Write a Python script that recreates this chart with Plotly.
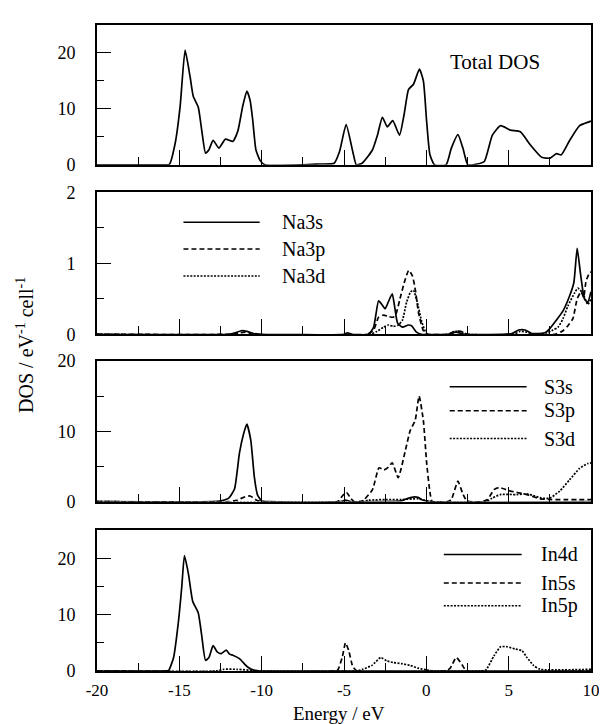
import plotly.graph_objects as go
from plotly.subplots import make_subplots

# ---------------- data ----------------
tot_E = [-20, -16.0, -15.6, -15.25, -14.95, -14.65, -14.35, -14.15, -13.85, -13.6, -13.41, -13.2, -12.95, -12.6,
         -12.2, -11.75, -11.45, -11.15, -10.9, -10.7, -10.55, -10.35, -10.1, -9.8, -7.5, -6.5, -5.6, -5.27, -4.87,
         -4.47, -4.25, -3.9, -3.55, -3.27, -2.97, -2.67, -2.37, -2.04, -1.63, -1.35, -1.08, -0.78, -0.42, -0.18,
         0.02, 0.22, 0.5, 1.2, 1.52, 1.92, 2.22, 2.52, 3.0, 3.52, 4.01, 4.51, 5.11, 5.71, 6.31, 7.01, 7.51, 7.9,
         8.2, 8.71, 9.31, 9.97, 10]
tot_V = [0, 0, 0.1, 3.9, 10.5, 20.5, 15.8, 12.2, 10.3, 5.3, 2.1, 2.7, 4.4, 3.0,
         4.6, 4.2, 6.0, 10.5, 13.2, 11.5, 8.2, 2.7, 0.8, 0, 0, 0.15, 0.3, 2.4, 7.2,
         2.4, 0, 0.3, 1.5, 2.7, 5.3, 8.5, 6.8, 7.9, 5.3, 9.0, 13.5, 14.4, 17.1, 15.0,
         7.7, 1.8, 0, 0, 3.0, 5.4, 3.0, 0, 0.1, 0.6, 5.3, 7.0, 6.2, 5.9, 3.6, 1.35, 1.2, 2.0,
         1.8, 4.4, 7.0, 7.8, 7.9]

na3s_E = [-20, -12, -11.6, -11.2, -10.9, -10.5, -10, -5.0, -4.8, -4.5, -3.5, -3.2, -2.9, -2.7, -2.5, -2.3, -2.07,
          -1.9, -1.75, -1.45, -1.1, -0.9, -0.6, -0.3, 1.3, 1.8, 2.3, 5.2, 5.6, 6.0, 6.4, 7.2, 7.5, 7.9, 8.3, 8.7,
          8.96, 9.16, 9.37, 9.6, 9.8, 10]
na3s_V = [0, 0, 0.02, 0.05, 0.04, 0.01, 0, 0, 0.02, 0, 0, 0.1, 0.47, 0.42, 0.36, 0.46, 0.57,
          0.35, 0.16, 0.1, 0.13, 0.12, 0.03, 0, 0, 0.03, 0, 0.01, 0.06, 0.06, 0.01, 0.02, 0.08, 0.2, 0.33, 0.54,
          0.73, 1.21, 0.84, 0.5, 0.45, 0.6]

na3p_E = [-20, -12, -11.3, -11.0, -10.6, -3.6, -3.2, -2.9, -2.6, -2.3, -2.0, -1.85, -1.6, -1.35, -1.07, -0.84,
          -0.65, -0.48, -0.18, 0.1, 1.3, 1.7, 2.1, 2.4, 7.8, 8.3, 8.6, 8.9, 9.16, 9.4, 9.55, 9.7, 9.9, 10]
na3p_V = [0, 0, 0.02, 0.03, 0, 0, 0.06, 0.24, 0.27, 0.25, 0.24, 0.28, 0.5, 0.72, 0.9, 0.82,
          0.6, 0.31, 0.05, 0, 0, 0.04, 0.04, 0, 0, 0.05, 0.12, 0.22, 0.5, 0.6, 0.52, 0.75, 0.86, 0.88]

na3d_E = [-20, -3.4, -3.0, -2.6, -2.3, -2.0, -1.7, -1.45, -1.2, -0.95, -0.78, -0.55, -0.27, 0.05, 1.4, 1.8, 2.2,
          2.5, 5.3, 5.7, 6.1, 6.5, 7.3, 7.7, 8.0, 8.3, 8.6, 9.0, 9.2, 9.5, 9.8, 10]
na3d_V = [0, 0, 0.04, 0.1, 0.13, 0.11, 0.13, 0.2, 0.45, 0.6, 0.62, 0.45, 0.17, 0, 0, 0.04, 0.03,
          0, 0, 0.04, 0.03, 0, 0.02, 0.06, 0.1, 0.22, 0.4, 0.58, 0.65, 0.58, 0.42, 0.5]

s3s_E = [-20, -13, -12.5, -12.0, -11.65, -11.35, -11.1, -10.9, -10.66, -10.45, -10.26, -10.0, -9.5, -5.2, -4.9,
         -4.6, -3.0, -1.5, -1.2, -0.8, -0.5, -0.2, 0.2, 10]
s3s_V = [0, 0, 0.1, 0.5, 1.8, 6.9, 9.6, 11.0, 8.7, 3.6, 1.0, 0.1, 0, 0, 0.2,
         0, 0, 0.1, 0.4, 0.65, 0.6, 0.2, 0, 0]

s3p_E = [-20, -12, -11.5, -11.0, -10.7, -10.3, -10, -5.4, -5.1, -4.85, -4.6, -4.4, -4.0, -3.77, -3.27, -2.87,
         -2.57, -2.3, -2.07, -1.71, -1.27, -0.98, -0.68, -0.44, -0.18, 0.02, 0.22, 0.36, 1.3, 1.52, 1.92, 2.2,
         2.42, 2.6, 3.4, 3.72, 4.11, 4.41, 5.11, 6.11, 6.91, 7.51, 10]
s3p_V = [0, 0, 0.2, 0.7, 0.8, 0.2, 0, 0, 0.8, 1.3, 0.5, 0, 0, 0.3, 1.7, 4.8,
         4.5, 4.9, 5.5, 3.4, 7.3, 10.1, 11.5, 15.0, 11.5, 5.5, 1.3, 0, 0, 0.3, 2.9, 1.2,
         0.2, 0, 0, 0.3, 1.7, 2.0, 1.5, 1.0, 0.4, 0.3, 0.3]

s3d_E = [-20, -4, -3.5, -2.5, -1.5, -0.5, 0.3, 3.6, 4.0, 4.5, 5.5, 6.1, 6.6, 7.0, 7.5, 8.1, 8.7, 9.3, 9.8, 10]
s3d_V = [0, 0, 0.2, 0.3, 0.3, 0.4, 0, 0, 0.5, 1.0, 1.0, 1.1, 0.8, 0.5, 0.5, 1.5, 3.1, 4.7, 5.4, 5.5]

in4d_E = [-20, -15.9, -15.65, -15.35, -15.05, -14.85, -14.69, -14.45, -14.19, -13.85, -13.65, -13.41, -13.2,
          -12.95, -12.7, -12.45, -12.15, -11.95, -11.75, -11.35, -10.85, -10.45, -10.1, 10]
in4d_V = [0, 0, 0.1, 2.4, 8.9, 15.0, 20.5, 17.3, 12.4, 10.3, 6.5, 1.9, 2.4,
          4.5, 3.4, 3.1, 3.7, 3.0, 2.8, 2.2, 0.7, 0.1, 0, 0]

in5s_E = [-20, -5.5, -5.37, -5.1, -4.91, -4.7, -4.47, -4.2, 1.2, 1.45, 1.82, 2.15, 2.45, 10]
in5s_V = [0, 0, 0.2, 2.5, 5.0, 3.5, 0.8, 0, 0, 0.5, 2.4, 1.2, 0, 0]

in5p_E = [-20, -12.8, -12.3, -11.5, -10.5, -10, -4.2, -3.87, -3.3, -2.77, -2.4, -2.0, -1.5, -1.0, -0.5, 0.0, 0.5,
          3.3, 3.62, 4.11, 4.51, 4.91, 5.41, 5.81, 6.11, 6.51, 6.91, 10]
in5p_V = [0, 0, 0.3, 0.3, 0.1, 0, 0, 0.3, 1.0, 2.4, 1.8, 1.5, 1.3, 1.0, 0.5, 0.2, 0,
          0, 0.2, 2.7, 4.3, 4.3, 3.9, 3.6, 2.4, 1.0, 0.3, 0.3]

x_ticks = [-20, -15, -10, -5, 0, 5, 10]
panel_names = [["Total DOS"], ["Na3s", "Na3p", "Na3d"], ["S3s", "S3p", "S3d"], ["In4d", "In5s", "In5p"]]

# ---------------- figure ----------------
FONT = "Liberation Serif"
SOLID, DASH, DOT = "solid", "5px,3px", "2px,1.4px"
LW = 1.7

fig = make_subplots(rows=4, cols=1)

series = [
    (1, tot_E, tot_V, SOLID),
    (2, na3s_E, na3s_V, SOLID), (2, na3p_E, na3p_V, DASH), (2, na3d_E, na3d_V, DOT),
    (3, s3s_E, s3s_V, SOLID), (3, s3p_E, s3p_V, DASH), (3, s3d_E, s3d_V, DOT),
    (4, in4d_E, in4d_V, SOLID), (4, in5s_E, in5s_V, DASH), (4, in5p_E, in5p_V, DOT),
]
for row, xs, ys, dash in series:
    fig.add_trace(go.Scatter(x=xs, y=ys, mode="lines",
                             line=dict(color="black", width=LW, dash=dash, shape="spline", smoothing=0.5),
                             showlegend=False, hoverinfo="skip"), row=row, col=1)

# domains in paper fraction (plot area = 656 px tall)
domains = [[0.7835, 1.0], [0.5213, 0.7409], [0.2622, 0.4802], [0.0, 0.218]]
yranges = [[0, 25], [0, 2], [0, 20], [0, 25]]
ydticks = [10, 1, 10, 10]

for i in range(4):
    sfx = "" if i == 0 else str(i + 1)
    fig.layout["yaxis" + sfx].update(
        domain=domains[i], range=yranges[i], dtick=ydticks[i], tick0=0,
        ticks="inside", ticklen=14, tickwidth=1.3, tickcolor="black",
        minor=dict(dtick=ydticks[i] / 2, ticks="inside", ticklen=7, tickwidth=1.3, tickcolor="black"),
        showline=True, linecolor="black", linewidth=1.6, mirror=True,
        showgrid=False, zeroline=False, ticklabelstandoff=16,
        tickfont=dict(family=FONT, size=18, color="black"), fixedrange=True)
    fig.layout["xaxis" + sfx].update(
        range=[-20, 10], tickvals=x_ticks, ticktext=[str(v) for v in x_ticks],
        ticks="inside", ticklen=15, tickwidth=1.3, tickcolor="black",
        minor=dict(dtick=2.5, tick0=-20, ticks="inside", ticklen=8, tickwidth=1.3, tickcolor="black"),
        showline=True, linecolor="black", linewidth=1.6, mirror=True,
        showgrid=False, zeroline=False, showticklabels=(i == 3), ticklabelstandoff=3,
        tickfont=dict(family=FONT, size=17, color="black"), fixedrange=True)

# legends drawn as line samples + text
leg_x = [None, (-14.75, -10.12, -8.9), (1.42, 6.09, 7.0), (1.06, 5.79, 6.85)]
leg_y = [None, (1.58, 1.20, 0.82), (16.3, 12.9, 8.95), (20.7, 15.6, 11.6)]
dashes = [SOLID, DASH, DOT]
for i in range(1, 4):
    sfx = str(i + 1)
    x0, x1, xt = leg_x[i]
    for k in range(3):
        fig.add_shape(type="line", x0=x0, x1=x1, y0=leg_y[i][k], y1=leg_y[i][k],
                      xref="x" + sfx, yref="y" + sfx,
                      line=dict(color="black", width=1.5, dash=dashes[k]))
        fig.add_annotation(x=xt, y=leg_y[i][k], xref="x" + sfx, yref="y" + sfx,
                           text=panel_names[i][k], showarrow=False, xanchor="left", yanchor="middle",
                           font=dict(family=FONT, size=20, color="black"))

fig.add_annotation(x=4.2, y=18.4, xref="x", yref="y", text=panel_names[0][0], showarrow=False,
                   xanchor="center", yanchor="middle", font=dict(family=FONT, size=21, color="black"))

fig.add_annotation(x=-0.146, y=0.5046, xref="paper", yref="paper", textangle=-90,
                   text="DOS / eV<sup>-1</sup> cell<sup>-1</sup>", showarrow=False,
                   xanchor="center", yanchor="middle", font=dict(family=FONT, size=20, color="black"))
fig.add_annotation(x=0.49, y=-0.0655, xref="paper", yref="paper",
                   text="Energy / eV", showarrow=False,
                   xanchor="center", yanchor="middle", font=dict(family=FONT, size=19, color="black"))

# page body has an 8 px margin, so the figure is sized to fit the 607x724 window
fig.update_layout(width=599, height=716, margin=dict(l=89, r=9, t=7, b=53),
                  paper_bgcolor="white", plot_bgcolor="white", showlegend=False)

fig.write_html("out.html")
